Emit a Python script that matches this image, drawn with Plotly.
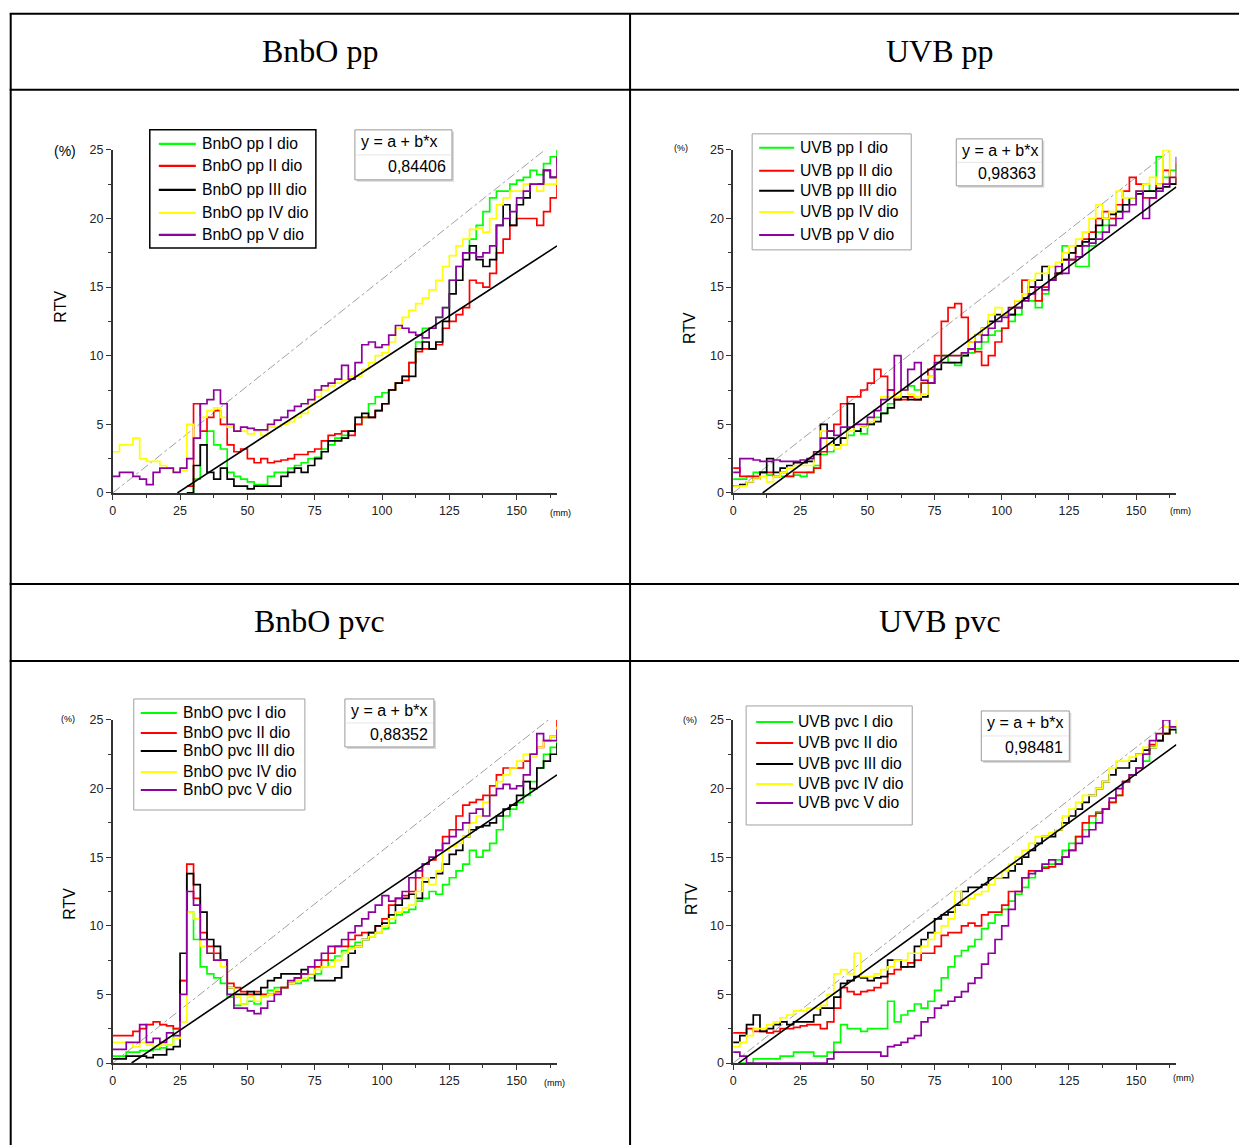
import plotly.graph_objects as go

W, H = 1239, 1145

# calibration of the page photograph (figure px -> photographed px)
CAL_AX, CAL_BX = 0.997, 3.3
CAL_AY, CAL_BY = 0.9876, 6.16


def px(x):
    return ((x - CAL_BX) / CAL_AX) / W


def py(y):
    return 1 - ((y - CAL_BY) / CAL_AY) / H


# ---------------- DATA ----------------
X = [0, 2.5, 5, 7.5, 10, 12.5, 15, 17.5, 20, 22.5,
     25, 27.5, 30, 32.5, 35, 37.5, 40, 42.5, 45, 47.5,
     50, 52.5, 55, 57.5, 60, 62.5, 65, 67.5, 70, 72.5,
     75, 77.5, 80, 82.5, 85, 87.5, 90, 92.5, 95, 97.5,
     100, 102.5, 105, 107.5, 110, 112.5, 115, 117.5, 120, 122.5,
     125, 127.5, 130, 132.5, 135, 137.5, 140, 142.5, 145, 147.5,
     150, 152.5, 155, 157.5, 160, 162.5, 165]

N = None

# Panel 1: BnbO pp
P1_I = [N, N, N, N, N, N, N, N, N, N,
        N, 0, 1, 3.5, 4.5, 3.5, 3.2, 1.5, 1.2, 1.0,
        0.8, 0.6, 0.6, 1.2, 1.5, 1.5, 1.8, 2.0, 2.2, 2.5,
        2.6, 3.2, 3.5, 4.0, 4.2, 4.5, 5.0, 5.5, 6.5, 7.0,
        7.3, 7.5, 8.0, 8.5, 9.5, 11.0, 12.0, 12.0, 12.8, 13.5,
        15.5, 16.5, 17.5, 18.5, 19.5, 20.5, 21.5, 22.0, 22.0, 22.5,
        22.8, 23.0, 23.5, 23.2, 24.0, 24.5, 25.0]
P1_II = [N, N, N, N, N, N, N, N, N, N,
         N, 0.5, 6.5, 4.5, 5.5, 6.0, 5.0, 3.5, 3.0, 3.2,
         2.5, 2.2, 2.5, 2.2, 2.3, 2.4, 2.5, 2.8, 2.8, 3.0,
         3.2, 3.8, 4.2, 4.3, 4.5, 4.2, 5.0, 5.5, 5.5, 6.0,
         6.5, 7.5, 8.0, 8.2, 9.5, 10.3, 10.5, 10.5, 10.8, 12.0,
         12.5, 13.0, 13.5, 15.5, 15.3, 15.0, 16.0, 17.5, 18.5, 19.5,
         20.0, 20.0, 20.0, 19.5, 20.5, 21.5, 24.5]
P1_III = [N, N, N, N, N, N, N, N, N, N,
          N, 0.0, 2.0, 3.5, 1.5, 1.0, 1.8, 1.0, 0.5, 0.5,
          0.3, 0.5, 0.5, 0.5, 0.5, 1.2, 1.5, 1.8, 1.5, 2.0,
          2.5, 3.0, 3.8, 3.8, 4.0, 4.5, 5.5, 5.8, 5.5, 6.0,
          6.5, 7.5, 8.0, 8.5, 8.5, 10.5, 11.0, 10.5, 11.0, 12.5,
          14.5, 15.5, 17.0, 18.0, 17.0, 16.5, 17.0, 19.5, 21.0, 19.5,
          21.0, 21.5, 22.5, 22.5, 23.5, 23.0, 24.0]
P1_IV = [3.0, 3.5, 3.5, 4.0, 2.5, 2.3, 2.3, 2.0, 1.8, 1.5,
         1.6, 5.0, 4.0, 5.5, 6.0, 6.2, 5.5, 4.8, 4.5, 4.5,
         4.3, 4.5, 4.2, 4.8, 4.8, 5.0, 5.2, 5.5, 5.8, 6.5,
         7.0, 7.5, 7.8, 8.0, 8.2, 8.5, 8.5, 9.0, 9.5, 10.0,
         10.2, 11.0, 12.0, 12.8, 13.3, 13.8, 14.2, 14.8, 15.5, 16.5,
         17.3, 18.0, 18.5, 19.2, 19.3, 19.0, 20.0, 21.0, 21.5, 22.0,
         22.0, 22.5, 22.5, 22.0, 22.5, 22.5, 24.0]
P1_V = [1.2, 1.5, 1.5, 1.2, 1.0, 0.6, 1.5, 1.8, 1.8, 1.5,
        1.8, 2.5, 4.0, 6.5, 6.8, 7.5, 6.5, 5.0, 4.5, 4.8,
        4.7, 4.6, 4.6, 5.0, 5.3, 5.5, 6.0, 6.3, 6.5, 6.8,
        7.5, 7.8, 8.0, 8.3, 9.3, 8.3, 9.5, 10.8, 11.0, 10.6,
        10.8, 11.5, 12.2, 12.0, 11.7, 11.5, 11.3, 12.0, 12.8, 13.5,
        15.5, 16.5, 17.5, 17.5, 17.2, 17.5, 18.0, 19.5, 20.0, 20.5,
        21.5, 22.0, 22.5, 22.5, 23.5, 23.0, 24.5]

# Panel 2: UVB pp
P2_I = [1.0, 1.0, 1.2, 1.5, 1.5, 1.3, 1.2, 1.2, 1.2, 1.3,
        1.2, 1.5, 2.0, 2.8, 3.0, 3.5, 4.0, 4.2, 4.5, 4.3,
        5.0, 5.5, 5.8, 6.5, 7.0, 7.5, 7.8, 7.5, 8.0, 8.5,
        9.5, 10.0, 9.5, 9.3, 10.0, 10.2, 10.5, 11.0, 11.5, 11.8,
        12.0, 12.5, 13.0, 15.5, 14.0, 13.5, 14.5, 15.5, 16.0, 18.0,
        17.0, 16.5, 16.5, 18.0, 19.0, 19.5, 20.0, 20.5, 21.0, 21.5,
        22.0, 22.5, 22.0, 24.5, 23.0, 23.5, 24.0]
P2_II = [1.8, 1.2, 1.2, 1.2, 1.5, 1.5, 1.2, 1.5, 1.2, 1.5,
         1.5, 1.5, 1.8, 3.0, 4.5, 5.0, 6.5, 7.0, 7.0, 7.5,
         8.0, 9.0, 8.5, 7.5, 6.8, 6.8, 7.0, 6.8, 8.0, 9.0,
         10.0, 12.5, 13.5, 13.8, 12.8, 11.0, 10.3, 9.3, 10.0, 11.0,
         12.0, 13.0, 14.0, 15.5, 15.0, 14.0, 15.0, 15.5, 16.0, 17.0,
         17.0, 18.0, 18.5, 19.0, 20.0, 20.5, 20.0, 21.0, 22.0, 23.0,
         22.5, 21.5, 21.5, 22.5, 23.5, 22.5, 23.0]
P2_III = [0.5, 0.6, 0.8, 1.0, 1.5, 2.5, 1.5, 1.8, 2.0, 2.2,
          2.2, 2.3, 2.8, 5.0, 4.0, 3.5, 4.0, 6.5, 4.5, 4.8,
          5.0, 5.2, 5.8, 6.2, 6.8, 7.0, 6.8, 6.8, 7.0, 8.0,
          9.0, 9.5, 9.5, 9.5, 10.0, 10.5, 11.5, 12.0, 12.5, 13.0,
          13.0, 13.0, 13.5, 14.2, 15.0, 15.5, 16.5, 15.5, 16.0, 17.0,
          17.5, 18.0, 18.3, 18.5, 19.5, 20.0, 20.3, 20.5, 21.0, 21.5,
          21.8, 22.0, 22.0, 22.2, 22.3, 22.5, 23.0]
P2_IV = [0.5, 0.5, 0.8, 1.0, 1.2, 0.8, 1.2, 1.5, 1.8, 2.0,
         2.0, 2.0, 3.0, 4.5, 3.5, 3.2, 3.5, 4.5, 5.0, 4.8,
         5.2, 6.0, 7.0, 7.0, 7.0, 7.5, 7.2, 7.0, 7.2, 8.5,
         9.5, 10.0, 10.0, 10.0, 10.2, 11.0, 11.5, 12.0, 13.0, 13.5,
         13.0, 13.5, 14.0, 14.5, 15.5, 16.0, 16.0, 16.5, 16.8, 17.5,
         18.0, 18.5, 19.0, 20.0, 21.0, 20.0, 20.5, 22.0, 21.5, 21.5,
         22.0, 22.5, 23.0, 22.5, 25.0, 23.0, 24.0]
P2_V = [1.5, 2.5, 2.5, 2.4, 2.3, 2.3, 2.4, 2.3, 2.3, 2.3,
        2.4, 2.5, 3.0, 4.0, 4.5, 4.2, 4.8, 4.8, 5.0, 5.0,
        5.5, 6.0, 6.8, 7.5, 10.0, 7.5, 9.0, 9.5, 8.2, 8.0,
        9.5, 10.0, 10.0, 10.0, 10.2, 10.5, 11.0, 11.5, 12.0, 12.5,
        12.8, 13.5, 13.5, 14.0, 14.5, 15.0, 14.8, 15.5, 16.5, 16.0,
        17.0, 17.2, 18.0, 18.2, 18.5, 19.0, 19.5, 20.0, 20.5, 21.0,
        22.0, 20.0, 21.5, 22.0, 22.5, 23.0, 24.5]

# Panel 3: BnbO pvc
P3_I = [0.5, 0.5, 0.8, 0.8, 0.9, 0.9, 1.0, 1.1, 1.3, 2.5,
        6.0, 11.0, 9.0, 7.0, 6.5, 6.2, 5.8, 4.8, 4.2, 4.3,
        4.5, 4.3, 4.8, 5.3, 5.5, 5.5, 5.8, 5.8, 6.0, 6.2,
        6.5, 7.0, 7.5, 7.8, 8.2, 8.5, 8.8, 9.0, 9.2, 9.5,
        9.8, 10.2, 10.8, 11.0, 11.2, 11.8, 12.0, 12.5, 12.3, 13.0,
        13.5, 14.0, 14.5, 15.5, 15.0, 15.5, 16.0, 17.0, 18.0, 18.5,
        19.0, 19.5, 20.5, 21.5, 22.5, 23.0, 24.0]
P3_II = [2.0, 2.0, 2.0, 2.3, 2.5, 2.8, 3.0, 2.8, 2.7, 2.5,
         6.0, 14.5, 12.0, 9.5, 8.5, 8.0, 7.5, 5.8, 5.5, 5.2,
         5.0, 5.2, 5.0, 5.0, 5.2, 5.5, 5.8, 6.2, 6.5, 6.5,
         7.0, 7.5, 8.0, 8.5, 8.5, 9.0, 9.3, 9.5, 9.5, 10.0,
         10.5, 11.5, 12.0, 12.2, 12.5, 13.5, 14.5, 14.8, 15.5, 16.5,
         17.0, 18.0, 18.8, 19.0, 19.2, 19.5, 20.2, 21.0, 21.5, 21.5,
         21.5, 22.0, 22.5, 23.0, 23.5, 23.8, 25.0]
P3_III = [0.3, 0.3, 0.5, 0.5, 0.5, 0.4, 0.6, 0.6, 1.0, 1.2,
          8.0, 13.8, 13.0, 11.0, 9.0, 8.5, 7.5, 5.5, 5.0, 5.0,
          5.2, 5.0, 5.5, 6.0, 6.2, 6.5, 6.5, 6.5, 6.8, 6.5,
          6.0, 6.0, 6.0, 6.2, 7.0, 8.0, 8.5, 9.0, 9.5, 10.0,
          10.2, 10.8, 11.5, 12.0, 12.3, 12.0, 13.2, 13.5, 13.8, 14.5,
          15.2, 15.5, 16.5, 17.0, 17.2, 17.3, 17.5, 18.0, 18.5, 18.8,
          19.5, 20.5, 20.0, 21.5, 22.0, 22.5, 23.3]
P3_IV = [1.5, 1.5, 1.5, 1.2, 1.5, 1.3, 1.2, 1.3, 1.3, 1.8,
         3.0, 11.0, 10.5, 8.5, 8.0, 7.5, 7.0, 5.5, 4.8, 4.3,
         4.8, 4.5, 4.8, 5.0, 5.3, 5.5, 5.8, 6.0, 6.2, 6.5,
         6.8, 7.0, 7.0, 7.5, 8.0, 8.3, 8.5, 9.0, 9.2, 9.5,
         10.0, 10.5, 11.0, 11.3, 11.5, 12.5, 13.5, 13.0, 14.0, 15.5,
         15.8, 16.0, 16.5, 17.5, 18.0, 19.0, 19.5, 20.5, 21.0, 21.5,
         22.0, 22.5, 22.3, 23.0, 23.5, 23.8, 24.5]
P3_V = [1.0, 1.0, 1.5, 1.5, 2.8, 1.5, 1.8, 1.5, 2.2, 2.0,
        5.0, 12.5, 11.5, 9.0, 8.0, 7.5, 7.5, 5.0, 4.0, 4.0,
        3.8, 3.6, 4.0, 4.5, 5.0, 5.5, 6.0, 6.2, 6.5, 7.0,
        7.5, 8.0, 8.5, 8.5, 9.0, 9.5, 10.0, 10.5, 11.0, 11.5,
        12.2, 11.8, 12.0, 12.5, 13.5, 14.0, 14.5, 15.0, 15.5, 16.0,
        16.5, 17.0, 17.5, 18.2, 18.5, 18.0, 19.5, 20.0, 20.3, 20.0,
        20.2, 21.0, 22.5, 24.0, 23.5, 23.5, 24.3]

# Panel 4: UVB pvc
P4_I = [N, 0.0, 0.0, 0.3, 0.3, 0.3, 0.3, 0.5, 0.5, 0.8,
        0.8, 0.8, 0.5, 0.5, 0.8, 1.5, 2.8, 2.5, 2.5, 2.3,
        2.5, 2.5, 2.5, 4.5, 3.0, 3.5, 3.8, 4.3, 4.0, 4.5,
        5.3, 6.2, 7.0, 7.8, 8.2, 8.5, 9.0, 9.8, 10.2, 10.8,
        11.2, 11.8, 12.3, 12.8, 13.5, 14.0, 14.3, 14.5, 14.8, 15.5,
        16.0, 16.5, 17.0, 17.5, 18.3, 18.5, 19.0, 19.5, 20.5, 21.0,
        21.5, 22.0, 23.0, 23.5, 24.0, 24.5, 24.0]
P4_II = [2.2, 2.2, 2.5, 2.3, 2.3, 2.2, 2.3, 2.5, 2.5, 2.6,
         2.7, 2.8, 2.8, 2.5, 3.0, 4.0, 5.5, 5.2, 5.0, 5.2,
         5.3, 5.5, 5.8, 6.5, 6.8, 7.0, 7.3, 7.5, 8.0, 8.0,
         8.5, 9.3, 9.5, 9.5, 10.0, 10.2, 10.0, 10.8, 11.0, 11.0,
         11.5, 12.5, 12.5, 13.5, 14.0, 14.0, 14.2, 14.3, 14.5, 15.0,
         15.5, 16.5, 17.5, 18.0, 18.2, 18.5, 19.0, 19.5, 20.5, 21.0,
         21.5, 22.5, 23.2, 23.5, 24.0, 24.5, 24.5]
P4_III = [1.5, 2.0, 2.8, 3.5, 2.3, 2.5, 2.8, 3.0, 2.8, 3.0,
          3.0, 3.0, 3.5, 4.0, 4.0, 4.8, 5.8, 6.0, 6.3, 6.2,
          6.0, 6.2, 6.3, 7.5, 7.5, 7.0, 7.0, 8.5, 9.0, 9.5,
          10.5, 10.8, 11.0, 11.5, 12.5, 12.8, 12.8, 13.0, 13.5, 13.5,
          13.5, 14.0, 14.5, 15.0, 15.5, 16.0, 16.5, 16.5, 17.0, 17.5,
          18.0, 18.5, 19.0, 19.5, 20.0, 20.5, 21.0, 21.5, 21.5, 22.0,
          22.5, 22.8, 23.0, 23.5, 24.0, 24.3, 24.0]
P4_IV = [1.2, 1.5, 2.0, 2.5, 2.5, 2.8, 3.0, 3.3, 3.5, 3.8,
         3.8, 4.0, 4.0, 4.2, 5.0, 6.5, 6.8, 6.5, 8.0, 6.3,
         6.3, 6.5, 6.8, 7.0, 7.5, 7.5, 8.0, 8.0, 8.5, 9.0,
         9.5, 10.0, 10.5, 12.5, 11.5, 12.0, 12.3, 12.5, 13.0, 13.5,
         14.0, 14.5, 15.0, 15.5, 16.0, 16.5, 16.5, 16.8, 17.0, 18.0,
         18.5, 19.0, 19.5, 19.5, 20.0, 20.5, 21.5, 22.0, 22.0, 22.3,
         22.5, 23.0, 23.0, 24.0, 24.5, 24.5, 25.0]
P4_V = [0.8, 0.5, 0.0, 0.0, 0.0, 0.0, 0.0, 0.0, 0.0, 0.0,
        0.0, 0.0, 0.0, 0.0, 0.3, 0.8, 0.8, 0.8, 0.8, 0.8,
        0.8, 0.8, 0.5, 1.2, 1.3, 1.5, 1.8, 2.0, 3.0, 3.3,
        4.0, 4.2, 4.5, 4.8, 5.2, 5.8, 6.2, 7.2, 8.0, 9.0,
        10.0, 11.2, 12.5, 13.5, 13.8, 14.0, 14.5, 14.8, 14.5, 15.0,
        15.5, 16.0, 16.5, 17.0, 17.5, 18.5, 19.3, 20.0, 20.5, 21.0,
        21.5, 22.5, 23.5, 24.0, 25.0, 24.5, 24.5]

# Linear fits (endpoints) and reference diagonals
FIT_X = [[24, 165], [11, 165], [7, 165], [2, 165]]
FIT_Y = [[0, 18.0], [0, 22.3], [0, 21.0], [0, 23.2]]
DIAG_X = [0, 165]
DIAG_Y = [[0, 25.7], [0, 25.3], [0, 25.5], [0, 25.3]]

TITLES = ["BnbO pp", "UVB pp", "BnbO pvc", "UVB pvc"]
SERIES_NAMES = [
    ["BnbO pp I dio", "BnbO pp II dio", "BnbO pp III dio", "BnbO pp IV dio", "BnbO pp V dio"],
    ["UVB pp I dio", "UVB pp II dio", "UVB pp III dio", "UVB pp IV dio", "UVB pp V dio"],
    ["BnbO pvc I dio", "BnbO pvc II dio", "BnbO pvc III dio", "BnbO pvc IV dio", "BnbO pvc V dio"],
    ["UVB pvc I dio", "UVB pvc II dio", "UVB pvc III dio", "UVB pvc IV dio", "UVB pvc V dio"],
]
SERIES = [
    [P1_I, P1_II, P1_III, P1_IV, P1_V],
    [P2_I, P2_II, P2_III, P2_IV, P2_V],
    [P3_I, P3_II, P3_III, P3_IV, P3_V],
    [P4_I, P4_II, P4_III, P4_IV, P4_V],
]
R_VALUES = ["0,84406", "0,98363", "0,88352", "0,98481"]
X_TICKS = [0, 25, 50, 75, 100, 125, 150]
Y_TICKS = [0, 5, 10, 15, 20, 25]

COLORS = ["#00ff00", "#ff0000", "#000000", "#ffff00", "#8e00a0"]

# ---------------- LAYOUT GEOMETRY (pixels) ----------------
AX = [  # x0, x1, ytop, ybottom
    (113, 557, 149, 492),
    (733, 1176, 149, 492),
    (113, 557, 719, 1062),
    (733, 1176, 719, 1062),
]
# legend boxes: x0, y0, x1, y1, border colour, border width, sample line width
LEG_BOX = [(150, 129, 316, 247, "#000000", 1.5, 2.4),
           (752, 133, 911, 249, "#a0a0a0", 1, 2),
           (134, 698, 305, 809, "#a0a0a0", 1, 2),
           (746, 705, 912, 824, "#a0a0a0", 1, 2)]
LEG_SAMPLE = [(159, 196, 200), (759, 794, 798), (141, 177, 181), (756, 793, 796)]
LEG_ROWS = [[143, 165, 189, 212, 234], [147, 170, 190, 211, 234],
            [712, 732, 750, 771, 789], [721, 742, 763, 783, 802]]
BOX = [(355, 129, 452, 179), (956, 138, 1042, 185),
       (345, 698, 434, 746), (981, 710, 1069, 760)]
PCT = [(65, 150, 14), (681, 147, 9), (68, 718, 9), (690, 719, 9)]
MM = [(560, 512), (1180, 510), (554, 1082), (1183, 1077)]
RTV = [(61, 306), (690, 327), (70, 903), (692, 898)]
TITLE_POS = [(320, 50), (940, 50), (320, 620), (940, 620)]

SANS = "Liberation Sans, Arial, sans-serif"
SERIF = "Liberation Serif, Times New Roman, serif"

fig = go.Figure()
shapes = []
annotations = []
layout = {}


def note(x, y, text, size, family=SANS, xanchor="center", angle=0):
    return dict(x=px(x), y=py(y), xref="paper", yref="paper", text=text,
                showarrow=False, xanchor=xanchor, yanchor="middle", textangle=angle,
                font=dict(family=family, size=size, color="#000000"))


for i in range(4):
    sfx = "" if i == 0 else str(i + 1)
    xa, ya = "x" + sfx, "y" + sfx
    fig.add_trace(go.Scatter(x=DIAG_X, y=DIAG_Y[i], xaxis=xa, yaxis=ya, mode="lines",
                             line=dict(color="#a0a0a0", width=1, dash="dashdot"),
                             showlegend=False, hoverinfo="skip"))
    for k in range(5):
        fig.add_trace(go.Scatter(x=X, y=SERIES[i][k], xaxis=xa, yaxis=ya, mode="lines",
                                 name=SERIES_NAMES[i][k], showlegend=False,
                                 line=dict(color=COLORS[k], width=1.7, shape="hv")))
    fig.add_trace(go.Scatter(x=FIT_X[i], y=FIT_Y[i], xaxis=xa, yaxis=ya, mode="lines",
                             line=dict(color="#000000", width=1.6),
                             showlegend=False, hoverinfo="skip"))

    x0, x1, yt, yb = AX[i]
    common = dict(showgrid=False, zeroline=False, showline=True, linecolor="#333333",
                  linewidth=1.5, ticks="outside", ticklen=5, tickwidth=1.2,
                  tickcolor="#333333", tickfont=dict(family=SANS, size=12.5, color="#222222"))
    layout["xaxis" + sfx] = dict(common, domain=[px(x0), px(x1)], range=[0, 165],
                                 anchor=ya, tickvals=X_TICKS,
                                 minor=dict(dtick=12.5, tick0=0, ticks="outside", ticklen=3,
                                            tickcolor="#333333", showgrid=False))
    layout["yaxis" + sfx] = dict(common, domain=[py(yb), py(yt)], range=[0, 25],
                                 anchor=xa, tickvals=Y_TICKS,
                                 minor=dict(dtick=2.5, tick0=0, ticks="outside", ticklen=3,
                                            tickcolor="#333333", showgrid=False))

    # legend box (key of the five series)
    lx0, ly0, lx1, ly1, lcol, lbw, lsw = LEG_BOX[i]
    shapes.append(dict(type="rect", xref="paper", yref="paper",
                       x0=px(lx0), x1=px(lx1), y0=py(ly1), y1=py(ly0),
                       line=dict(color=lcol, width=lbw), fillcolor="white", layer="above"))
    sx0, sx1, tx0 = LEG_SAMPLE[i]
    for k in range(5):
        ry = LEG_ROWS[i][k]
        shapes.append(dict(type="line", xref="paper", yref="paper",
                           x0=px(sx0), x1=px(sx1), y0=py(ry), y1=py(ry),
                           line=dict(color=COLORS[k], width=lsw), layer="above"))
        annotations.append(note(tx0, ry, SERIES_NAMES[i][k], 15.7, xanchor="left"))

    # equation box
    bx0, by0, bx1, by1 = BOX[i]
    shapes.append(dict(type="rect", xref="paper", yref="paper",
                       x0=px(bx0 + 2), x1=px(bx1 + 2), y0=py(by1 + 2), y1=py(by0 + 2),
                       line=dict(width=0), fillcolor="#d8d8d8", layer="above"))
    shapes.append(dict(type="rect", xref="paper", yref="paper",
                       x0=px(bx0), x1=px(bx1), y0=py(by1), y1=py(by0),
                       line=dict(color="#9a9a9a", width=1), fillcolor="white", layer="above"))
    mid = (by0 + by1) / 2
    shapes.append(dict(type="line", xref="paper", yref="paper",
                       x0=px(bx0 + 1), x1=px(bx1 - 1), y0=py(mid), y1=py(mid),
                       line=dict(color="#e6e6e6", width=1), layer="above"))
    annotations.append(note(bx0 + 4, by0 + (by1 - by0) * 0.24, "y = a + b*x", 16,
                            xanchor="left"))
    annotations.append(note(bx1 - 4, by0 + (by1 - by0) * 0.73, R_VALUES[i], 16,
                            xanchor="right"))
    cx, cy, fs = PCT[i]
    annotations.append(note(cx, cy, "(%)", fs))
    mx, my = MM[i]
    annotations.append(note(mx, my, "(mm)", 9))
    rx, ry = RTV[i]
    annotations.append(note(rx, ry, "RTV", 16, angle=-90))
    tx, ty = TITLE_POS[i]
    annotations.append(note(tx, ty, TITLES[i], 32, family=SERIF))


def hline(y, xa=10, xb=1239):
    return dict(type="line", xref="paper", yref="paper", x0=px(xa), x1=px(xb),
                y0=py(y), y1=py(y), line=dict(color="#000000", width=2))


def vline(x, ya=13, yb=1145):
    return dict(type="line", xref="paper", yref="paper", x0=px(x), x1=px(x),
                y0=py(ya), y1=py(yb), line=dict(color="#000000", width=2))


for yy in (13, 89, 583, 660):
    shapes.append(hline(yy))
for xx in (11, 630):
    shapes.append(vline(xx))

fig.update_layout(width=W, height=H, margin=dict(l=0, r=0, t=0, b=0),
                  paper_bgcolor="white", plot_bgcolor="white", showlegend=False,
                  shapes=shapes, annotations=annotations, **layout)

fig.write_html("out.html", config={"displayModeBar": False},
               post_script="document.body.style.margin='0';document.body.style.overflow='hidden';")
